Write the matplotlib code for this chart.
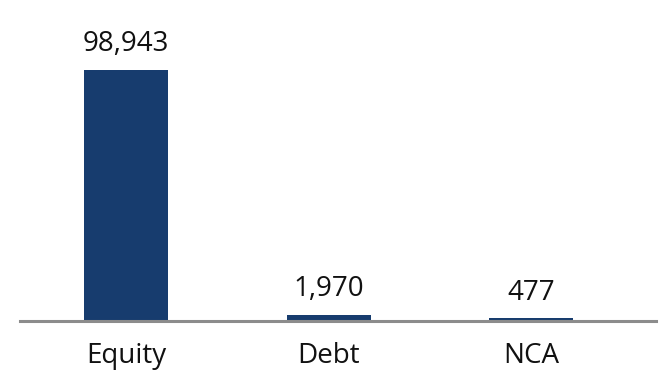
import matplotlib
matplotlib.use("Agg")
import matplotlib.pyplot as plt

categories = ["Equity", "Debt", "NCA"]
values = [98943, 1970, 477]
labels = ["98,943", "1,970", "477"]

plt.rcParams['font.family'] = ['Open Sans', 'DejaVu Sans']

W, H = 671, 391
fig = plt.figure(figsize=(W / 100, H / 100), dpi=100)
ax = fig.add_axes([20 / W, 70 / H, 636 / W, 301 / H])

pos = list(range(len(categories)))
ax.bar(pos, values, width=0.415, color="#173C6E", zorder=2)
ax.set_xlim(-0.525, 2.616)
scale = values[0] / 250.0
ax.set_ylim(-1.5 * scale, values[0] + 49.5 * scale)

for p, v, t in zip(pos, values, labels):
    ax.annotate(t, (p, v), xytext=(0, 13), textcoords="offset points",
                ha="center", va="baseline", fontsize=20, color="#111111")

ax.set_xticks(pos)
ax.set_xticklabels(categories, fontsize=20, color="#111111")
ax.tick_params(axis="x", length=0, pad=15)
ax.set_yticks([])
for s in ["left", "right", "top"]:
    ax.spines[s].set_visible(False)
ax.spines["bottom"].set_color("#8c8c8c")
ax.spines["bottom"].set_linewidth(2.2)
ax.spines["bottom"].set_zorder(3)

fig.savefig("out.png", dpi=100)
